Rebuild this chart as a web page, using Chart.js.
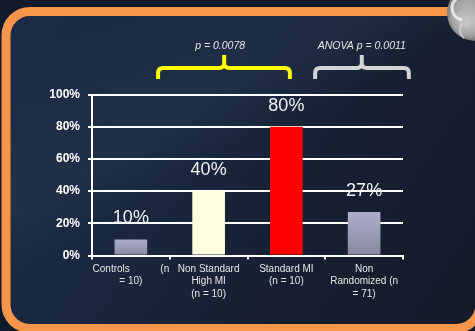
<!DOCTYPE html>
<html>
<head>
<meta charset="utf-8">
<script src="https://cdn.jsdelivr.net/npm/chart.js@4"></script>
<style>
  body { margin: 0; background: #101b2e; }
  #wrap { width: 475px; height: 331px; position: relative; }
</style>
</head>
<body>
<div id="wrap"><canvas id="my_chart"></canvas></div>
<script>
// chart data
const categories = [
  ['Controls           (n', '= 10)'],
  ['Non Standard', 'High MI', '(n = 10)'],
  ['Standard MI', '(n = 10)'],
  ['Non', 'Randomized (n', '= 71)']
];
const percentages = [10, 40, 80, 27];
const yTicks = [0, 20, 40, 60, 80, 100];
const pLabels = ['p = 0.0078', 'ANOVA p = 0.0011'];

// lavender bars get a top-to-bottom fade
function barColor(ctx) {
  const i = ctx.dataIndex;
  if (i === 1) return '#ffffe0';
  if (i === 2) return '#ff0000';
  const chart = ctx.chart;
  const y = chart.scales && chart.scales.y;
  if (!chart.chartArea || !y || y.top === undefined) return '#9d9dbb';
  const top = y.getPixelForValue(percentages[i]);
  const bottom = y.getPixelForValue(0);
  const g = chart.ctx.createLinearGradient(0, top, 0, bottom);
  g.addColorStop(0, '#adadcc');
  g.addColorStop(1, '#88889f');
  return g;
}

function roundRect(c, x, y, w, h, r) {
  c.beginPath();
  c.moveTo(x + r, y);
  c.lineTo(x + w - r, y);
  c.arcTo(x + w, y, x + w, y + r, r);
  c.lineTo(x + w, y + h - r);
  c.arcTo(x + w, y + h, x + w - r, y + h, r);
  c.lineTo(x + r, y + h);
  c.arcTo(x, y + h, x, y + h - r, r);
  c.lineTo(x, y + r);
  c.arcTo(x, y, x + r, y, r);
  c.closePath();
}

const backdrop = {
  id: 'backdrop',
  beforeDraw(chart) {
    const c = chart.ctx;
    c.save();
    c.fillStyle = '#101a2c';
    c.fillRect(0, 0, chart.width, chart.height);
    // panel with a faint diagonal sheen
    const g = c.createLinearGradient(0, 0, 475, 331);
    g.addColorStop(0, '#1d2c48');
    g.addColorStop(0.35, '#1a2840');
    g.addColorStop(0.7, '#161f31');
    g.addColorStop(1, '#141b28');
    roundRect(c, 6, 11.5, 474, 317, 24);
    c.fillStyle = g;
    c.fill();
    const s = c.createLinearGradient(120, 0, 300, 331);
    s.addColorStop(0, 'rgba(90,110,140,0)');
    s.addColorStop(0.35, 'rgba(90,110,140,0.10)');
    s.addColorStop(0.5, 'rgba(90,110,140,0)');
    c.fillStyle = s;
    c.fill();
    // orange frame
    c.lineWidth = 9;
    c.strokeStyle = '#f7964a';
    c.stroke();
    // grey ball in the corner
    const b = c.createRadialGradient(466, 22, 3, 472, 14, 28);
    b.addColorStop(0, '#c4c4c4');
    b.addColorStop(0.6, '#a2a2a2');
    b.addColorStop(1, '#6a6a6a');
    c.beginPath();
    c.arc(475, 13, 28, 0, Math.PI * 2);
    c.fillStyle = b;
    c.fill();
    c.beginPath();
    c.arc(464, 8, 12, Math.PI * 0.55, Math.PI * 1.6);
    c.strokeStyle = 'rgba(240,240,240,0.85)';
    c.lineWidth = 3;
    c.stroke();
    c.beginPath();
    c.arc(470, 30, 10, Math.PI * 0.7, Math.PI * 1.2);
    c.strokeStyle = 'rgba(230,230,230,0.6)';
    c.lineWidth = 2;
    c.stroke();
    c.restore();
  }
};

function drawBrace(c, x, left, right, peak, color) {
  const yh = 68, yEnd = 79, yTop = 55, r = 5;
  const l = x.getPixelForValue(left), rt = x.getPixelForValue(right), p = x.getPixelForValue(peak);
  c.beginPath();
  c.moveTo(l, yEnd);
  c.lineTo(l, yh + r);
  c.quadraticCurveTo(l, yh, l + r, yh);
  c.lineTo(p - r, yh);
  c.quadraticCurveTo(p, yh, p, yh - r);
  c.lineTo(p, yTop);
  c.moveTo(p, yh - r);
  c.quadraticCurveTo(p, yh, p + r, yh);
  c.lineTo(rt - r, yh);
  c.quadraticCurveTo(rt, yh, rt, yh + r);
  c.lineTo(rt, yEnd);
  c.strokeStyle = color;
  c.lineWidth = 4;
  c.lineCap = 'butt';
  c.stroke();
  return p;
}

const annotations = {
  id: 'annotations',
  afterDatasetsDraw(chart) {
    const c = chart.ctx;
    const x = chart.scales.x;
    c.save();
    // value labels above the bars
    c.fillStyle = '#f2f2f2';
    c.font = '18px "Liberation Sans", Arial, sans-serif';
    c.textAlign = 'center';
    c.textBaseline = 'alphabetic';
    chart.getDatasetMeta(0).data.forEach((bar, i) => {
      c.fillText(percentages[i] + '%', bar.x, bar.y - 16);
    });
    // significance brackets
    const p1 = drawBrace(c, x, 0.35, 2.045, 1.2, '#ffff00');
    const p2 = drawBrace(c, x, 2.37, 3.575, 2.97, '#d4d4d4');
    c.fillStyle = '#e6e6e6';
    c.font = 'italic 10.5px "Liberation Sans", Arial, sans-serif';
    c.fillText(pLabels[0], p1 - 4, 49);
    c.fillText(pLabels[1], p2, 49);
    c.restore();
  }
};

const myChart = document.getElementById('my_chart');

new Chart(myChart, {
  type: 'bar',
  data: {
    labels: categories,
    datasets: [{
      data: percentages,
      backgroundColor: barColor,
      borderWidth: 0,
      categoryPercentage: 1,
      barPercentage: 0.42
    }]
  },
  options: {
    responsive: true,
    maintainAspectRatio: false,
    animation: false,
    layout: { padding: { left: 0, right: 72, top: 94.5, bottom: 0 } },
    plugins: { legend: { display: false }, tooltip: { enabled: false } },
    scales: {
      x: {
        afterFit(scale) { scale.height = 75.5; },
        grid: { drawOnChartArea: false, color: '#ffffff', lineWidth: 2, tickLength: 4 },
        border: { color: '#ffffff', width: 2 },
        ticks: {
          color: '#e6e6e6',
          padding: 3,
          maxRotation: 0,
          autoSkip: false,
          font: { family: '"Liberation Sans", Arial, sans-serif', size: 10, lineHeight: 1.25 }
        }
      },
      y: {
        min: 0,
        max: 100,
        afterFit(scale) { scale.width = 92; },
        afterBuildTicks(scale) { scale.ticks = yTicks.map(v => ({ value: v })); },
        grid: { color: '#ffffff', lineWidth: 2, tickLength: 4 },
        border: { color: '#ffffff', width: 2 },
        ticks: {
          color: '#ffffff',
          padding: 8,
          callback: v => v + '%',
          font: { family: '"Liberation Sans", Arial, sans-serif', size: 12, weight: 'bold' }
        }
      }
    }
  },
  plugins: [backdrop, annotations]
});
</script>
</body>
</html>
